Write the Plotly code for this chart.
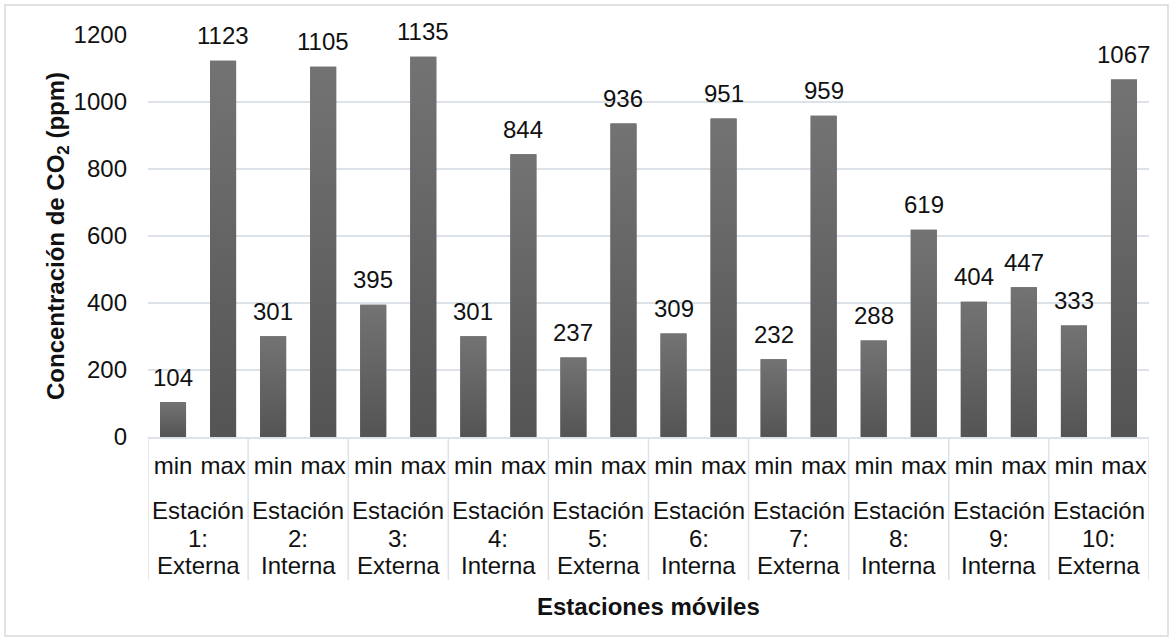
import plotly.graph_objects as go

station_names = ["Estación"] * 10
station_nums = ["1:", "2:", "3:", "4:", "5:", "6:", "7:", "8:", "9:", "10:"]
station_types = ["Externa", "Interna", "Externa", "Interna", "Externa",
                 "Interna", "Externa", "Interna", "Interna", "Externa"]
levels = ["min", "max"]
min_ppm = [104, 301, 395, 301, 237, 309, 232, 288, 404, 333]
max_ppm = [1123, 1105, 1135, 844, 936, 951, 959, 619, 447, 1067]
y_ticks = [0, 200, 400, 600, 800, 1000, 1200]

# flatten station/level pairs into one ordered bar sequence
pos, labels, values = [], [], []
for i, (lo, hi) in enumerate(zip(min_ppm, max_ppm)):
    for j, (lev, v) in enumerate(zip(levels, (lo, hi))):
        pos.append(2 * i + j)
        labels.append(lev)
        values.append(v)

font = "Liberation Sans, Arial, sans-serif"
fs = 24
ink = "#111111"
grid = "#dde2e9"
bar_w = 0.52

W, H = 1174, 641
ml, mr, mt, mb = 148, 25, 35, 204
pw, ph = W - ml - mr, H - mt - mb


def px_x(px):
    return (px - ml) / pw


def px_y(py):
    return (H - mb - py) / ph


fig = go.Figure()

# base bars (data + hover)
fig.add_trace(go.Bar(
    x=pos, y=values, width=bar_w,
    marker=dict(color="#636363", line=dict(width=0)),
    hoverinfo="x+y",
))

# vertical shading on every bar: lighter at the top, darker at the base
half = bar_w / 2
for x, v in zip(pos, values):
    fig.add_trace(go.Scatter(
        x=[x - half, x + half, x + half, x - half, x - half],
        y=[0, 0, v, v, 0],
        mode="lines", line=dict(width=0), fill="toself",
        fillgradient=dict(type="vertical",
                          colorscale=[[0, "#545454"], [1, "#737373"]],
                          start=0, stop=v),
        hoverinfo="skip",
    ))

annotations = []
shapes = []

# value labels above each bar
for x, v in zip(pos, values):
    annotations.append(dict(
        x=x, xref="x", y=v, yref="y", text=str(v), showarrow=False,
        xanchor="center", yanchor="middle", yshift=25,
        font=dict(family=font, size=fs, color=ink),
    ))

# station labels, one line at a time
n_groups = len(station_nums)
for i in range(n_groups):
    for line_text, py in zip((station_names[i], station_nums[i], station_types[i]),
                             (510, 538, 565)):
        annotations.append(dict(
            x=2 * i + 0.5, xref="x", y=px_y(py), yref="paper",
            text=line_text, showarrow=False, xanchor="center", yanchor="middle",
            font=dict(family=font, size=fs, color=ink),
        ))

# station dividers below the axis
for i in range(n_groups + 1):
    shapes.append(dict(
        type="line", xref="x", yref="paper",
        x0=2 * i - 0.5, x1=2 * i - 0.5, y0=0, y1=px_y(580),
        line=dict(color=grid, width=1.5),
    ))

annotations.append(dict(
    x=0.5, xref="paper", y=px_y(606), yref="paper",
    text="<b>Estaciones móviles</b>", showarrow=False,
    xanchor="center", yanchor="middle",
    font=dict(family=font, size=fs, color=ink),
))
annotations.append(dict(
    x=px_x(57), xref="paper", y=px_y(236), yref="paper",
    text="<b>Concentración de CO<sub>2</sub> (ppm)</b>", showarrow=False,
    textangle=-90, xanchor="center", yanchor="middle",
    font=dict(family=font, size=fs, color=ink),
))

# outer chart border
shapes.append(dict(
    type="rect", xref="paper", yref="paper",
    x0=px_x(5), x1=px_x(1168), y0=px_y(636), y1=px_y(5),
    line=dict(color="#d9d9d9", width=1.5),
    fillcolor="rgba(0,0,0,0)", layer="below",
))

fig.update_layout(
    width=W,
    height=H,
    margin=dict(l=ml, r=mr, t=mt, b=mb),
    paper_bgcolor="white",
    plot_bgcolor="white",
    font=dict(family=font, size=fs, color=ink),
    showlegend=False,
    xaxis=dict(
        range=[-0.5, 2 * n_groups - 0.5],
        tickmode="array",
        tickvals=pos,
        ticktext=labels,
        showgrid=False,
        zeroline=False,
        showline=True,
        linecolor=grid,
        linewidth=1.5,
        ticks="",
        ticklabelstandoff=6,
        tickangle=0,
        tickfont=dict(family=font, size=fs, color=ink),
    ),
    yaxis=dict(
        range=[0, 1200],
        tickmode="array",
        tickvals=y_ticks,
        showgrid=True,
        gridcolor=grid,
        gridwidth=1.5,
        zeroline=False,
        ticks="",
        ticklabelstandoff=20,
        tickfont=dict(family=font, size=fs, color=ink),
    ),
    annotations=annotations,
    shapes=shapes,
)

fig.write_html("out.html")
